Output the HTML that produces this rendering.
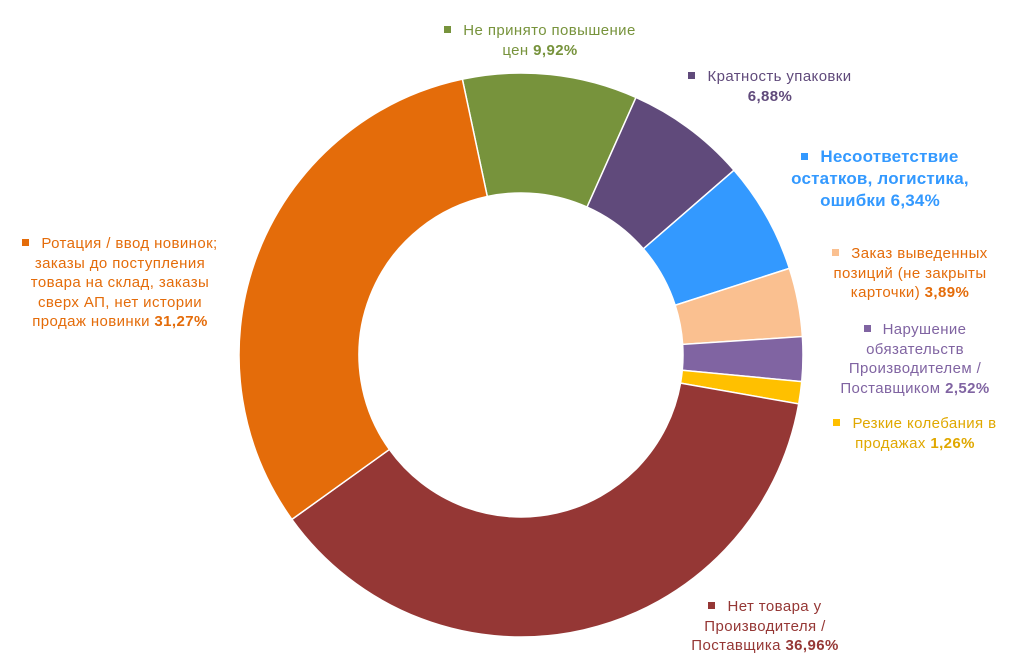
<!DOCTYPE html>
<html><head><meta charset="utf-8"><style>
body{margin:0;background:#fff;width:1031px;height:664px;overflow:hidden;font-family:"Liberation Sans",sans-serif}
.lb{position:absolute;font-size:15px;line-height:19.5px;text-align:center;letter-spacing:0.4px}
.sq{display:inline-block;width:7px;height:7px;margin-right:12px;vertical-align:2px}
</style></head><body>
<svg id="ch" width="1031" height="664" style="position:absolute;left:0;top:0"></svg>
<div class="lb" style="left:400px;top:21px;width:280px;color:#77933c"><span class="sq" style="background:#77933c"></span>Не принято повышение<br>цен <b>9,92%</b></div>
<div class="lb" style="left:660px;top:67px;width:220px;color:#604a7b"><span class="sq" style="background:#604a7b"></span>Кратность упаковки<br><b>6,88%</b></div>
<div class="lb" style="left:760px;top:146px;width:240px;color:#3399ff;font-size:17px;line-height:22px;font-weight:bold;letter-spacing:0.2px"><span class="sq" style="background:#3399ff"></span>Несоответствие<br>остатков, логистика,<br>ошибки 6,34%</div>
<div class="lb" style="left:795px;top:244px;width:230px;color:#e46c0a"><span class="sq" style="background:#fac090"></span>Заказ выведенных<br>позиций (не закрыты<br>карточки) <b>3,89%</b></div>
<div class="lb" style="left:800px;top:320px;width:230px;color:#8064a2"><span class="sq" style="background:#8064a2"></span>Нарушение<br>обязательств<br>Производителем /<br>Поставщиком <b>2,52%</b></div>
<div class="lb" style="left:800px;top:414px;width:230px;color:#e0a800"><span class="sq" style="background:#ffc000"></span>Резкие колебания в<br>продажах <b>1,26%</b></div>
<div class="lb" style="left:650px;top:597px;width:230px;color:#953735"><span class="sq" style="background:#953735"></span>Нет товара у<br>Производителя /<br>Поставщика <b>36,96%</b></div>
<div class="lb" style="left:-5px;top:234px;width:250px;color:#e46c0a"><span class="sq" style="background:#e46c0a"></span>Ротация / ввод новинок;<br>заказы до поступления<br>товара на склад, заказы<br>сверх АП, нет истории<br>продаж новинки <b>31,27%</b></div>
<script>
const categories=["Не принято повышение цен","Кратность упаковки","Несоответствие остатков","Заказ выведенных позиций","Нарушение обязательств","Резкие колебания","Нет товара","Ротация / ввод новинок"];
const values=[9.92,6.88,6.34,3.89,2.52,1.26,36.96,31.27];
const colors=["#77933c","#604a7b","#3399ff","#fac090","#8064a2","#ffc000","#953735","#e46c0a"];
const svg=document.getElementById('ch');
const cx=521,cy=355,R=282,r=162;
const total=values.reduce((a,b)=>a+b,0);
let a=-12*Math.PI/180;
function pt(rad,ang){return [cx+rad*Math.sin(ang),cy-rad*Math.cos(ang)];}
values.forEach((v,i)=>{
 const a2=a+v/total*2*Math.PI;
 const lg=(a2-a)>Math.PI?1:0;
 const p1=pt(R,a),p2=pt(R,a2),p3=pt(r,a2),p4=pt(r,a);
 const p=document.createElementNS('http://www.w3.org/2000/svg','path');
 p.setAttribute('d',`M${p1}A${R},${R} 0 ${lg} 1 ${p2}L${p3}A${r},${r} 0 ${lg} 0 ${p4}Z`);
 p.setAttribute('fill',colors[i]);p.setAttribute('stroke','#fff');p.setAttribute('stroke-width','1.5');
 
 
 svg.appendChild(p);
 a=a2;
});
</script>
</body></html>
